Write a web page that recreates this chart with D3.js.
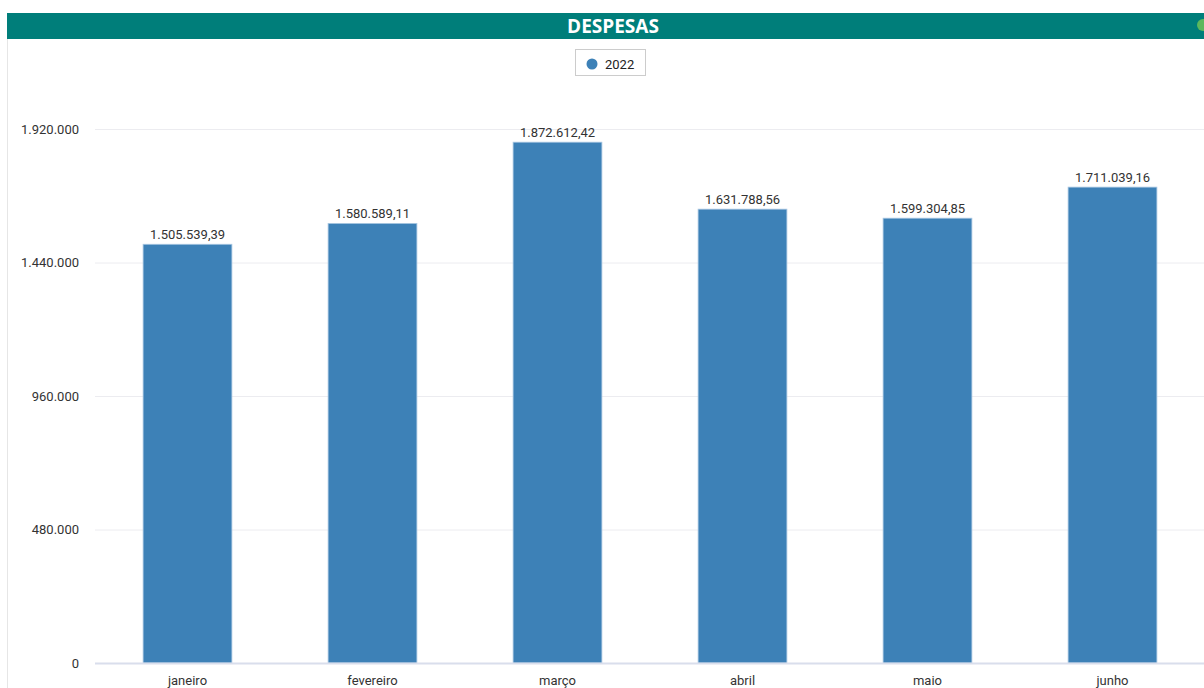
<!DOCTYPE html>
<html>
<head>
<meta charset="utf-8">
<script src="https://cdn.jsdelivr.net/npm/d3@7"></script>
<style>
  body { margin: 0; background: #fff; }
  svg { display: block; }
</style>
</head>
<body>
<div id="chart"></div>
<script>
  // data
  const months = ["janeiro", "fevereiro", "março", "abril", "maio", "junho"];
  const values2022 = [1505539.39, 1580589.11, 1872612.42, 1631788.56, 1599304.85, 1711039.16];
  const yTicks = [0, 480000, 960000, 1440000, 1920000];
  const seriesName = "2022";

  const width = 1204;
  const height = 688;

  const br = d3.formatLocale({ decimal: ",", thousands: ".", grouping: [3], currency: ["R$", ""] });
  const fmtTick = br.format(",.0f");
  const fmtVal = br.format(",.2f");

  const svg = d3.select("#chart").append("svg")
    .attr("width", width)
    .attr("height", height);

  // header bar
  svg.append("rect")
    .attr("x", 7).attr("y", 13)
    .attr("width", width - 7).attr("height", 26)
    .attr("fill", "#007e7a");
  svg.append("text")
    .attr("x", 613).attr("y", 33)
    .attr("text-anchor", "middle")
    .style("font-family", "'Open Sans', sans-serif")
    .style("font-weight", "bold")
    .style("font-size", "19px")
    .style("fill", "#fff")
    .text("DESPESAS");
  svg.append("circle")
    .attr("cx", 1203).attr("cy", 25).attr("r", 6)
    .attr("fill", "#5cb85c");

  // left border
  svg.append("line")
    .attr("x1", 7.5).attr("x2", 7.5)
    .attr("y1", 39).attr("y2", height)
    .attr("stroke", "#e6e6e6");

  // legend
  const legend = svg.append("g");
  legend.append("rect")
    .attr("x", 575.5).attr("y", 49.5)
    .attr("width", 70).attr("height", 26)
    .attr("fill", "#fff")
    .attr("stroke", "#cccccc");
  legend.append("circle")
    .attr("cx", 592).attr("cy", 64).attr("r", 5.5)
    .attr("fill", "#3d81b7");
  legend.append("text")
    .attr("x", 605).attr("y", 68.5)
    .style("font-family", "Roboto, sans-serif")
    .style("font-size", "13px")
    .style("fill", "#222")
    .text(seriesName);

  // scales
  const x = d3.scaleBand()
    .domain(months)
    .range([95, 1205])
    .paddingInner(0.52)
    .paddingOuter(0.26);

  const y = d3.scaleLinear()
    .domain([0, 1920000])
    .range([663, 129]);

  // grid
  svg.selectAll(".yGrid")
    .data(yTicks.slice(1))
    .join("line")
    .attr("class", "yGrid")
    .attr("x1", 95).attr("x2", width)
    .attr("y1", (d) => y(d) + 0.5)
    .attr("y2", (d) => y(d) + 0.5)
    .attr("stroke", "#ececf0")
    .attr("stroke-width", 1);

  // y labels
  svg.selectAll(".yLabel")
    .data(yTicks)
    .join("text")
    .attr("class", "yLabel")
    .attr("x", 79)
    .attr("y", (d) => y(d) + 4.5)
    .attr("text-anchor", "end")
    .style("font-family", "Roboto, sans-serif")
    .style("font-size", "13px")
    .style("fill", "#333")
    .text((d) => fmtTick(d));

  // bars
  svg.selectAll(".bar")
    .data(values2022)
    .join("rect")
    .attr("class", "bar")
    .attr("x", (d, i) => x(months[i]))
    .attr("y", (d) => y(d))
    .attr("width", x.bandwidth())
    .attr("height", (d) => y(0) - y(d))
    .attr("fill", "#3d81b7")
    .attr("stroke", "#a9c7e2")
    .attr("stroke-width", 0.8);

  // baseline
  svg.append("line")
    .attr("x1", 95).attr("x2", width)
    .attr("y1", y(0) + 0.5).attr("y2", y(0) + 0.5)
    .attr("stroke", "#d9deec")
    .attr("stroke-width", 2);

  // value labels
  svg.selectAll(".valLabel")
    .data(values2022)
    .join("text")
    .attr("class", "valLabel")
    .attr("x", (d, i) => x(months[i]) + x.bandwidth() / 2)
    .attr("y", (d) => y(d) - 5)
    .attr("text-anchor", "middle")
    .style("font-family", "Roboto, sans-serif")
    .style("font-size", "13px")
    .style("fill", "#333")
    .text((d) => fmtVal(d));

  // x labels
  svg.selectAll(".xLabel")
    .data(months)
    .join("text")
    .attr("class", "xLabel")
    .attr("x", (d) => x(d) + x.bandwidth() / 2)
    .attr("y", 685)
    .attr("text-anchor", "middle")
    .style("font-family", "Roboto, sans-serif")
    .style("font-size", "13px")
    .style("fill", "#333")
    .text((d) => d);
</script>
</body>
</html>
